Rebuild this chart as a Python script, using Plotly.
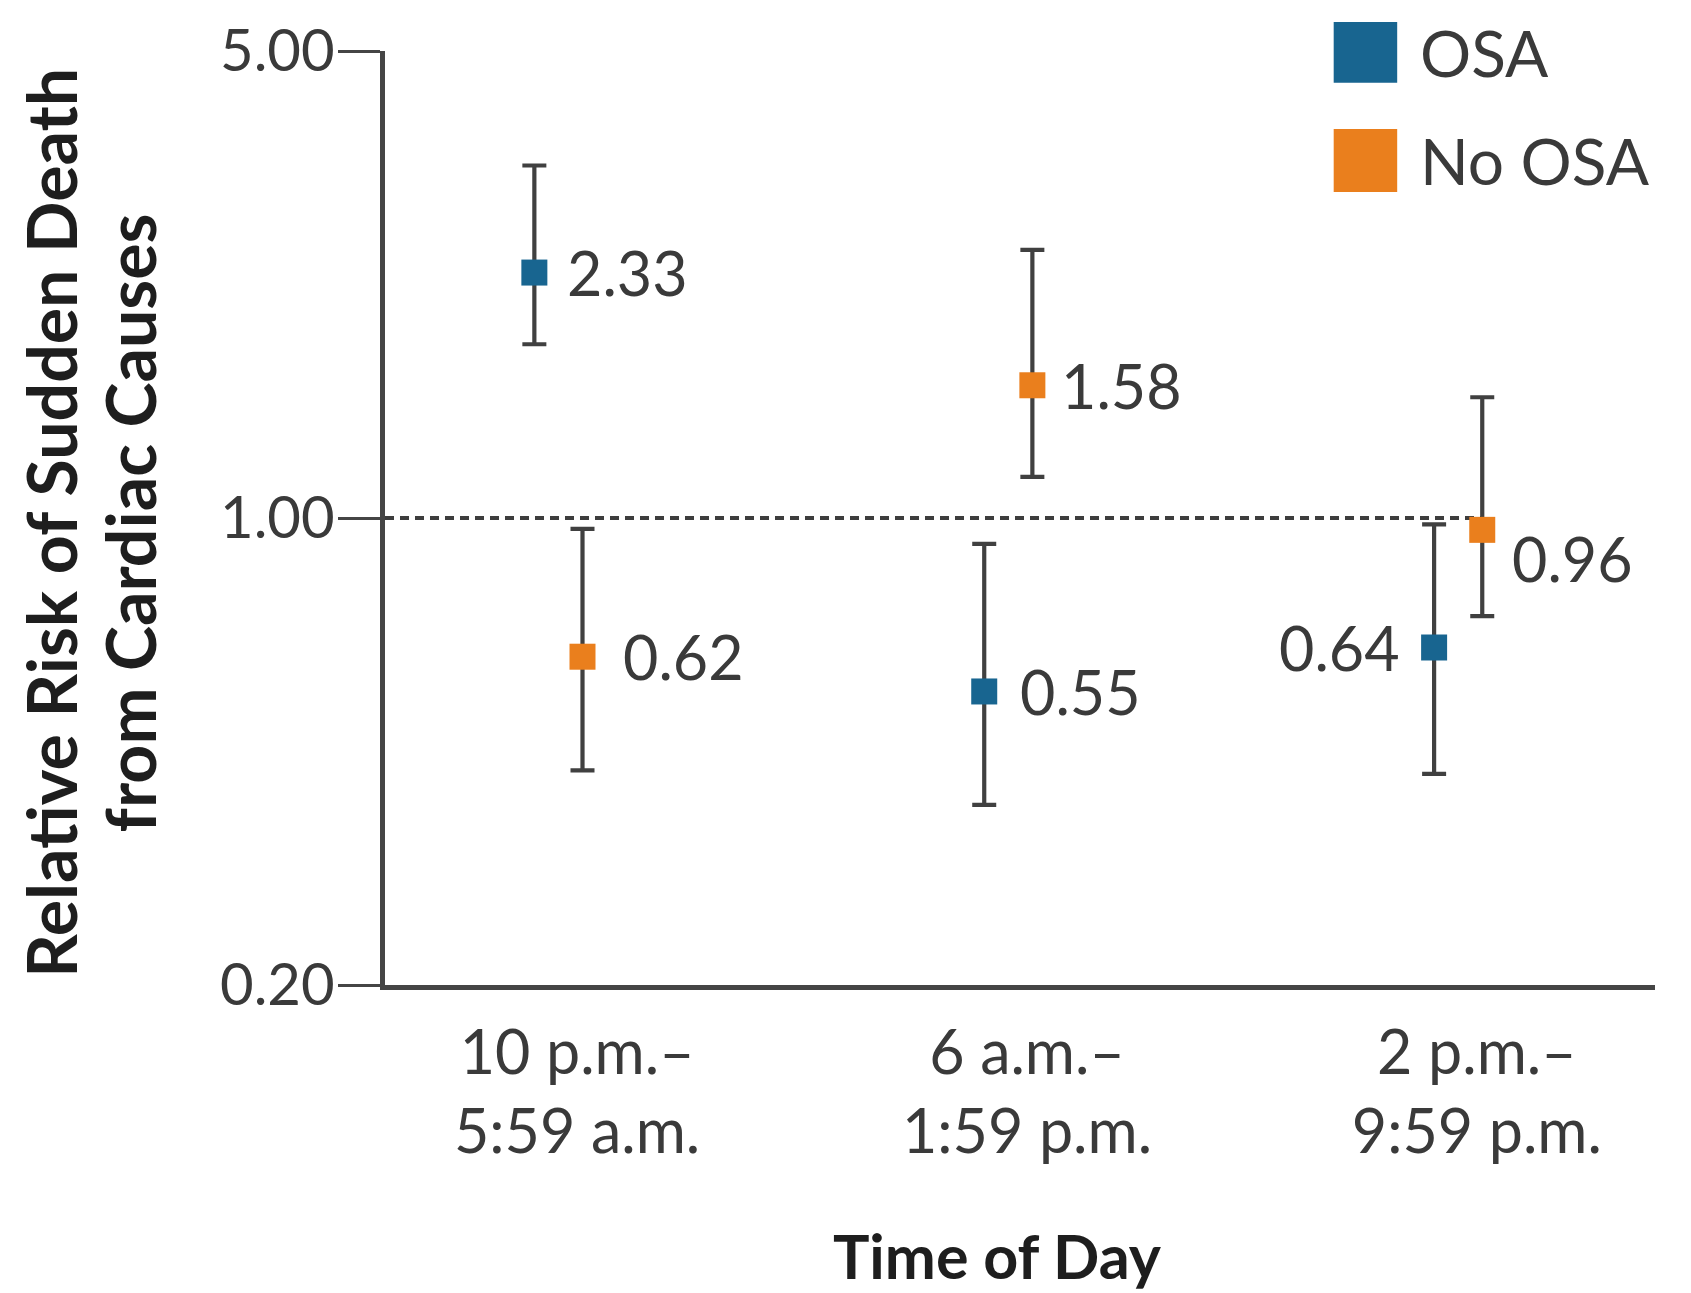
import math
import plotly.graph_objects as go

# ---- data ----
periods = ["10 p.m.–<br>5:59 a.m.", "6 a.m.–<br>1:59 p.m.", "2 p.m.–<br>9:59 p.m."]
series_names = ["OSA", "No OSA"]
osa_rr = [2.33, 0.55, 0.64]
osa_hi = [3.37, 0.915, 0.978]
osa_lo = [1.82, 0.372, 0.414]
noosa_rr = [0.62, 1.58, 0.96]
noosa_hi = [0.963, 2.52, 1.516]
noosa_lo = [0.419, 1.152, 0.713]
y_tickvals = [0.2, 1.0, 5.0]
y_ticktext = ["0.20", "1.00", "5.00"]
y_title_lines = ["Relative Risk of Sudden Death", "from Cardiac Causes"]
x_title = "Time of Day"
reference_rr = 1.0

# ---- style ----
OSA_COLOR = "#186590"
NOOSA_COLOR = "#ea7f1d"
AXIS_COLOR = "#454545"
TEXT_COLOR = "#3a3a3a"
FONT = "Lato"
OSA_OFFSET = -0.095
NOOSA_OFFSET = 0.012

idx = list(range(len(periods)))

def trace(name, rr, hi, lo, color, offset):
    return go.Scatter(
        x=[i + offset for i in idx],
        y=rr,
        mode="markers",
        name=name,
        marker=dict(symbol="square", size=26, color=color, line=dict(width=0)),
        error_y=dict(
            type="data",
            symmetric=False,
            array=[h - r for h, r in zip(hi, rr)],
            arrayminus=[r - l for r, l in zip(rr, lo)],
            color="#404040",
            thickness=4.2,
            width=12,
        ),
        showlegend=False,
        cliponaxis=False,
    )

fig = go.Figure()
fig.add_trace(trace(series_names[0], osa_rr, osa_hi, osa_lo, OSA_COLOR, OSA_OFFSET))
fig.add_trace(trace(series_names[1], noosa_rr, noosa_hi, noosa_lo, NOOSA_COLOR, NOOSA_OFFSET))

# value labels (placement style per point)
label_place = {
    0: [(31, 0, "left"), (34, 0, "left"), (-32, 0, "right")],
    1: [(38, 0, "left"), (27, 0, "left"), (28, -29, "left")],
}
for s, (rr, offset) in enumerate([(osa_rr, OSA_OFFSET), (noosa_rr, NOOSA_OFFSET)]):
    for i, v in enumerate(rr):
        dx, dy, anchor = label_place[s][i]
        fig.add_annotation(x=i + offset, y=math.log10(v), xref="x", yref="y",
                           text=f"{v:.2f}", showarrow=False,
                           xanchor=anchor, yanchor="middle", xshift=dx, yshift=dy,
                           font=dict(family=FONT, size=61, color=TEXT_COLOR))

x_range = [-0.427, 2.396]

# reference dashed line at RR = 1
fig.add_shape(type="line", xref="x", yref="y",
              x0=x_range[0], x1=idx[-1] + NOOSA_OFFSET, y0=reference_rr, y1=reference_rr,
              line=dict(color="#3d3d3d", width=4, dash="9px,6px"), layer="below")

# custom legend
legend_colors = [OSA_COLOR, NOOSA_COLOR]
legend_rows = [(0.966, 1.031), (0.849, 0.9165)]
for name, col, (y0, y1) in zip(series_names, legend_colors, legend_rows):
    fig.add_shape(type="rect", xref="paper", yref="paper",
                  x0=0.747, x1=0.797, y0=y0, y1=y1,
                  fillcolor=col, line=dict(width=0))
    fig.add_annotation(xref="paper", yref="paper", x=0.813, y=(y0 + y1) / 2,
                       text=name, showarrow=False, xanchor="left", yanchor="middle",
                       font=dict(family=FONT, size=64, color=TEXT_COLOR))

# axis titles
for line, xp in zip(y_title_lines, [-0.2630, -0.2010]):
    fig.add_annotation(xref="paper", yref="paper", x=xp, y=0.495,
                       text=f"<b>{line}</b>",
                       textangle=-90, showarrow=False, xanchor="center", yanchor="middle",
                       font=dict(family=FONT, size=68, color="#1e1e1e"))
fig.add_annotation(xref="paper", yref="paper", x=0.482, y=-0.29,
                   text=f"<b>{x_title}</b>", showarrow=False,
                   xanchor="center", yanchor="middle",
                   font=dict(family=FONT, size=61, color="#1e1e1e"))

fig.update_layout(
    width=1691, height=1293,
    margin=dict(l=385, r=36, t=51, b=308),
    paper_bgcolor="white", plot_bgcolor="white",
    font=dict(family=FONT, color=TEXT_COLOR),
    xaxis=dict(
        range=x_range, tickvals=idx, ticktext=periods,
        showgrid=False, zeroline=False,
        showline=True, linecolor=AXIS_COLOR, linewidth=4.5,
        ticks="outside", ticklen=11, tickcolor="rgba(0,0,0,0)",
        tickfont=dict(family=FONT, size=61, color=TEXT_COLOR),
    ),
    yaxis=dict(
        type="log",
        range=[math.log10(y_tickvals[0]), math.log10(y_tickvals[-1])],
        tickvals=y_tickvals, ticktext=y_ticktext,
        showgrid=False, zeroline=False,
        showline=True, linecolor=AXIS_COLOR, linewidth=4.5,
        ticks="outside", ticklen=42, tickwidth=2.5, tickcolor=AXIS_COLOR,
        ticklabelstandoff=-8,
        tickfont=dict(family=FONT, size=58, color=TEXT_COLOR),
    ),
)

fig.write_html("out.html")
